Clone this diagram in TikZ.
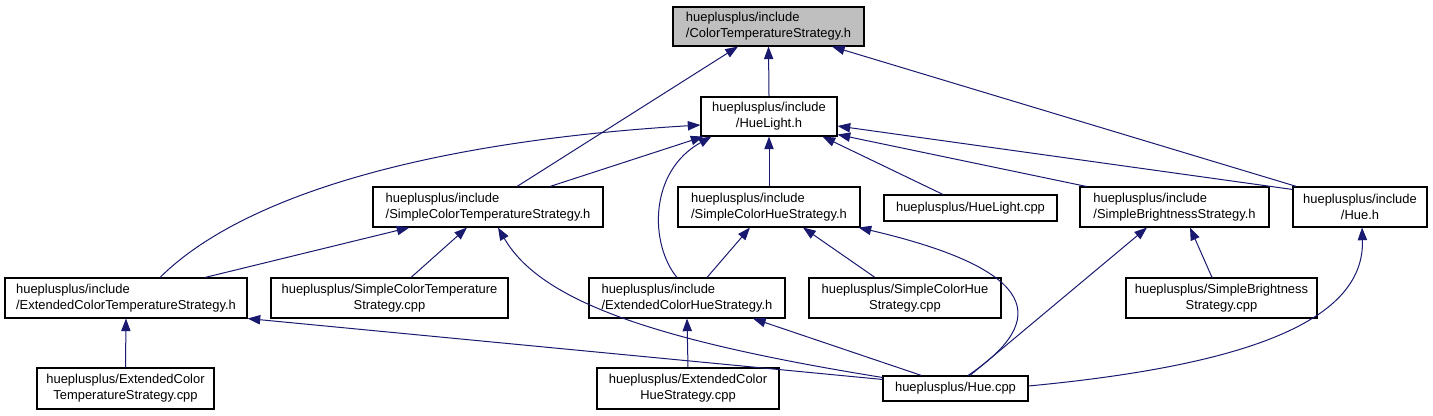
\documentclass[tikz,border=0pt]{standalone}
\usepackage{fontspec}
\setmainfont{Liberation Sans}
\usetikzlibrary{arrows.meta,calc}

\definecolor{edgeblue}{RGB}{25,25,112}
\definecolor{rootgray}{RGB}{191,191,191}

\begin{document}
\begin{tikzpicture}[x=0.75pt, y=-0.75pt,
  file/.style={draw=black, line width=0.8pt, inner sep=0pt,
    font=\fontsize{9.7}{11.8}\selectfont},
  box/.style 2 args={minimum width=#1*0.75pt, minimum height=#2*0.75pt},
  dep/.style={draw=edgeblue, line width=0.75pt,
    -{Triangle[length=9.5pt,width=7pt]}}]
  \useasboundingbox (0,0) rectangle (1433,416);

  % headers and sources
  \node[file, box={191}{39}, fill=rootgray, align=left] (cts) at (768.5,26.5)
    {hueplusplus/include\\/ColorTemperatureStrategy.h};
  \node[file, box={136}{39}, align=center] (huelight) at (769,116.5)
    {hueplusplus/include\\/HueLight.h};

  \node[file, box={230}{40}, align=left] (scts_h) at (488,207)
    {hueplusplus/include\\/SimpleColorTemperatureStrategy.h};
  \node[file, box={182}{40}, align=left] (schs_h) at (769,207)
    {hueplusplus/include\\/SimpleColorHueStrategy.h};
  \node[file, box={173}{26}] (huelight_cpp) at (970.5,208)
    {hueplusplus/HueLight.cpp};
  \node[file, box={189}{40}, align=left] (sbs_h) at (1174.5,207)
    {hueplusplus/include\\/SimpleBrightnessStrategy.h};
  \node[file, box={134}{40}, align=center] (hue_h) at (1360,207)
    {hueplusplus/include\\/Hue.h};

  \node[file, box={242}{40}, align=left] (ects_h) at (126,298)
    {hueplusplus/include\\/ExtendedColorTemperatureStrategy.h};
  \node[file, box={237}{40}, align=center] (scts_cpp) at (389.5,298)
    {hueplusplus/SimpleColorTemperature\\Strategy.cpp};
  \node[file, box={196}{40}, align=left] (echs_h) at (687,298)
    {hueplusplus/include\\/ExtendedColorHueStrategy.h};
  \node[file, box={192}{40}, align=center] (schs_cpp) at (905,298)
    {hueplusplus/SimpleColorHue\\Strategy.cpp};
  \node[file, box={191}{40}, align=center] (sbs_cpp) at (1221.5,298)
    {hueplusplus/SimpleBrightness\\Strategy.cpp};

  \node[file, box={177}{41}, align=center] (ects_cpp) at (125.5,388.5)
    {hueplusplus/ExtendedColor\\TemperatureStrategy.cpp};
  \node[file, box={182}{41}, align=center] (echs_cpp) at (688,388.5)
    {hueplusplus/ExtendedColor\\HueStrategy.cpp};
  \node[file, box={145}{25}] (hue_cpp) at (955.5,388.5)
    {hueplusplus/Hue.cpp};

  % include edges
  \draw[dep] (huelight.north) -- (cts.south);
  \draw[dep] ($(scts_h.north)+(29,0)$) -- ($(cts.south)+(-30.5,0)$);
  \draw[dep] ($(hue_h.north west)+(4,0)$) -- ($(cts.south)+(63.5,0)$);

  \draw[dep] ($(hue_h.north west)+(0,3)$) -- ($(huelight.east)+(0,9.5)$);
  \draw[dep] ($(sbs_h.north west)+(7,0)$) -- ($(huelight.south east)+(0,-2)$);
  \draw[dep] ($(huelight_cpp.north)+(-27.5,0)$) -- ($(huelight.south east)+(-15,0)$);
  \draw[dep] (schs_h.north) -- (huelight.south);
  \draw[dep] ($(scts_h.north)+(62,0)$) -- ($(huelight.south west)+(3,0)$);
  \draw[dep] ($(ects_h.north)+(34,0)$) .. controls (240,198) and (420,142) .. ($(huelight.west)+(0,8.5)$);
  \draw[dep] ($(echs_h.north)+(-10,0)$) .. controls (650,245) and (648,172) .. ($(huelight.south west)+(11,0)$);

  \draw[dep] ($(ects_h.north)+(79,0)$) -- ($(scts_h.south west)+(37,0)$);
  \draw[dep] ($(scts_cpp.north)+(21.5,0)$) -- ($(scts_h.south)+(-21,0)$);
  \draw[dep] ($(hue_cpp.north west)+(0,2)$) .. controls (650,340) and (540,300) .. ($(scts_h.south)+(10,0)$);

  \draw[dep] ($(echs_h.north)+(20,0)$) -- ($(schs_h.south)+(-19,0)$);
  \draw[dep] ($(schs_cpp.north)+(-30,0)$) -- ($(schs_h.south)+(34,0)$);
  \draw[dep] ($(hue_cpp.north)+(12.5,0)$) .. controls (1050,320) and (1040,270) .. ($(schs_h.south east)+(-2,0)$);

  \draw[dep] ($(hue_cpp.north)+(14.5,0)$) -- ($(sbs_h.south)+(-27.5,0)$);
  \draw[dep] ($(sbs_cpp.north)+(-9.5,0)$) -- ($(sbs_h.south)+(15.5,0)$);
  \draw[dep] ($(hue_cpp.east)+(0,-2.5)$) .. controls (1250,365) and (1365,320) .. ($(hue_h.south)+(2,0)$);

  \draw[dep] (ects_cpp.north) -- (ects_h.south);
  \draw[dep] ($(hue_cpp.north west)+(0,4)$) -- (ects_h.south east);
  \draw[dep] (echs_cpp.north) -- (echs_h.south);
  \draw[dep] ($(hue_cpp.north west)+(39,0)$) -- ($(echs_h.south)+(66,0)$);
\end{tikzpicture}
\end{document}
